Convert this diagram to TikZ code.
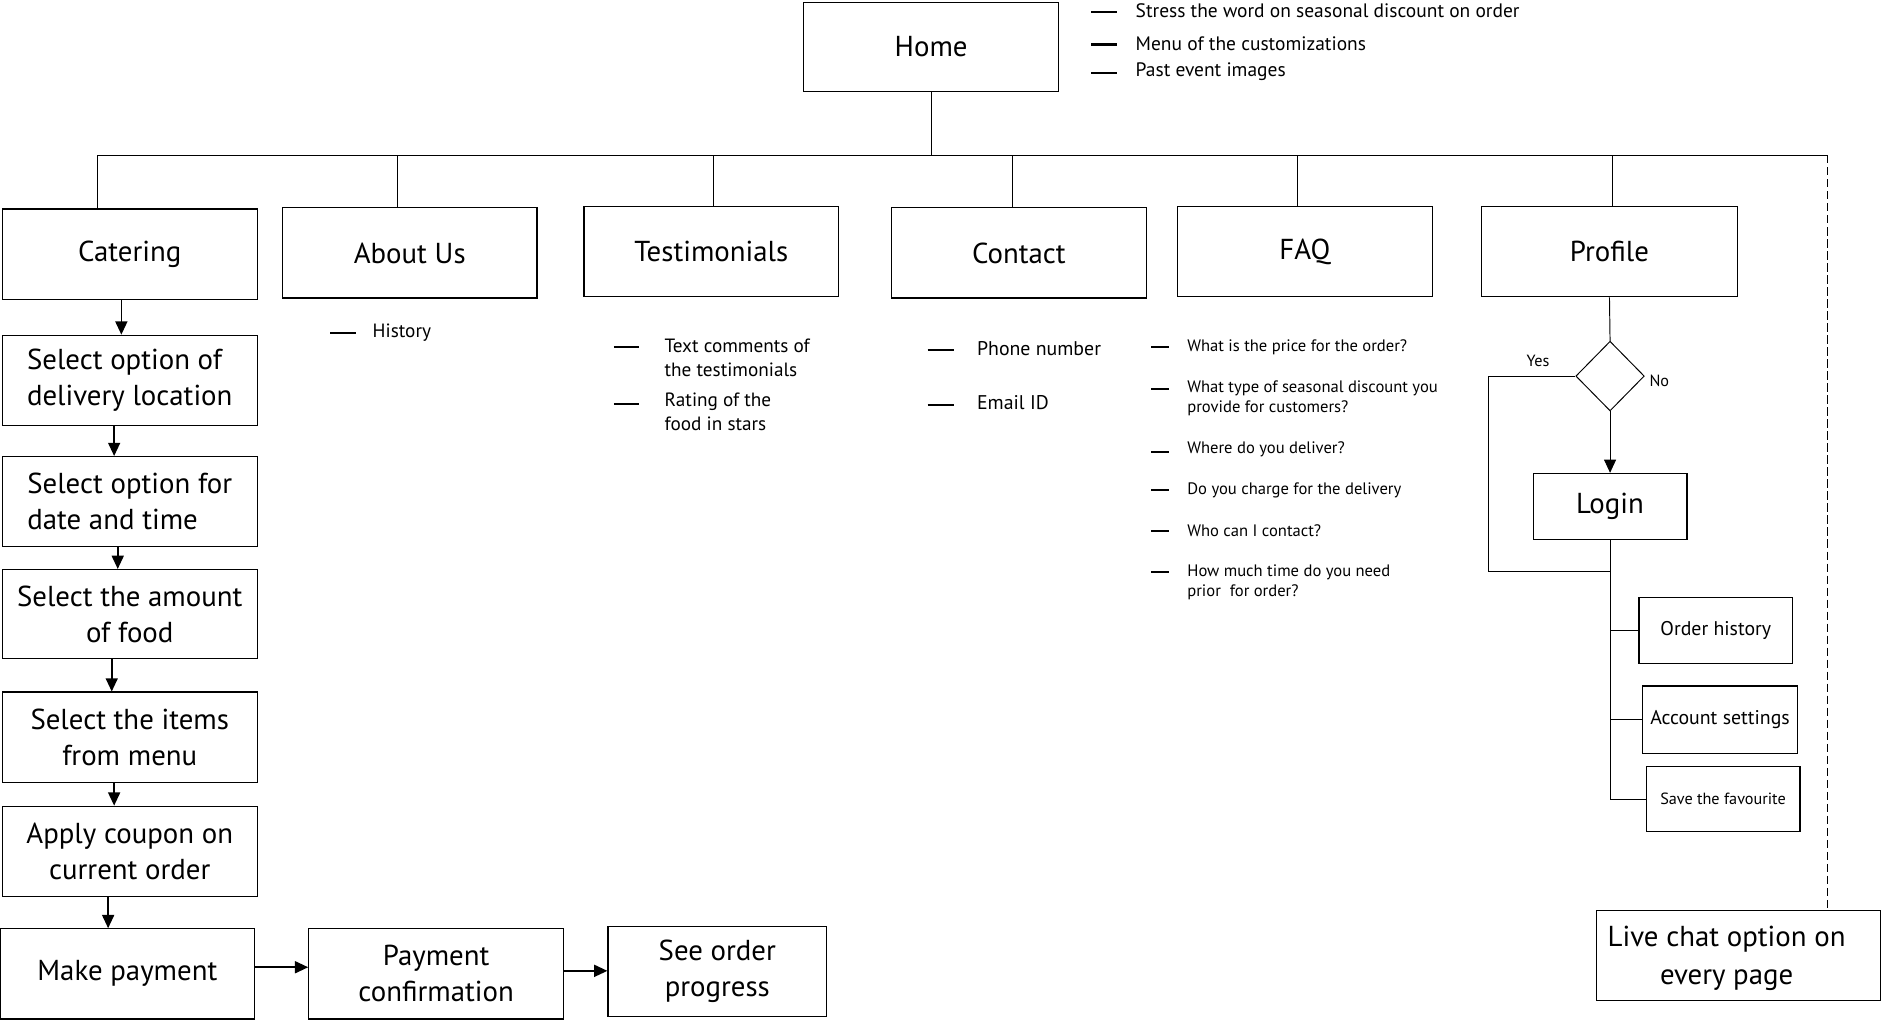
\documentclass[tikz,border=0pt]{standalone}
\usepackage{fontspec}
\setmainfont{PT Sans}
\usetikzlibrary{arrows.meta,shapes.geometric,calc}
\begin{document}
\begin{tikzpicture}[x=1pt,y=-1pt,
 box/.style={draw, line width=1pt, inner sep=0pt, align=center, font=\fontsize{24}{30}\selectfont},
 big/.style={font=\fontsize{24}{28}\selectfont},
 small/.style={font=\fontsize{16}{18}\selectfont},
 arr/.style={line width=1.3pt, -{Triangle[length=11pt,width=10pt]}},
 thinarr/.style={line width=0.8pt, -{Triangle[length=11pt,width=10pt]}},
 conn/.style={line width=0.8pt},
 bul/.style={anchor=west, inner sep=0pt, align=left},
 dsh/.style={line width=1.8pt}]
\useasboundingbox (0,0) rectangle (1568,849);

% top level
\node[box,big,minimum width=212pt,minimum height=74pt] (home) at (775,39) {Home};
\node[box,big,minimum width=212pt,minimum height=75pt] (cat) at (108,211.5) {Catering};
\node[box,big,minimum width=212pt,minimum height=75pt] (about) at (341,210.5) {About Us};
\node[box,big,minimum width=212pt,minimum height=75pt] (test) at (592,209.5) {Testimonials};
\node[box,big,minimum width=212pt,minimum height=75pt] (contact) at (848,210.5) {Contact};
\node[box,big,minimum width=212pt,minimum height=75pt] (faq) at (1086,209.5) {FAQ};
\node[box,big,minimum width=213pt,minimum height=75pt] (profile) at (1339.5,209.5) {Profile};

\coordinate (barL) at (81,129);
\coordinate (barR) at (1521,129);
\coordinate (sAbout) at (331,129);
\coordinate (sTest) at (594,129);
\coordinate (sContact) at (843,129);
\coordinate (sFaq) at (1080,129);
\coordinate (sProfile) at (1342,129);
\draw[conn] (home.south) -- (home.south |- barL);
\draw[conn] (barL) -- (barR);
\draw[conn] (barL) -- (barL |- cat.north);
\draw[conn] (sAbout) -- (sAbout |- about.north);
\draw[conn] (sTest) -- (sTest |- test.north);
\draw[conn] (sContact) -- (sContact |- contact.north);
\draw[conn] (sFaq) -- (sFaq |- faq.north);
\draw[conn] (sProfile) -- (sProfile |- profile.north);

% home bullets
\foreach \y/\t/\n in {9/{Stress the word on seasonal discount on order}/h1, 36/{Menu of the customizations}/h2, 60/{Past event images}/h3}{
  \draw[dsh] (908,\y+1) -- (930,\y+1);
  \node[bul,font=\fontsize{16.2}{20}\selectfont] (\n) at (945,\y) {\t};
}

% about bullet
\draw[dsh] (275,277) -- (296,277);
\node[bul,small] (hist) at (310,277) {History};

% testimonials bullets
\draw[dsh] (511,289) -- (532,289);
\node[bul,font=\fontsize{16}{20}\selectfont] (t1) at (553,298) {Text comments of\\the testimonials};
\draw[dsh] (511,336) -- (532,336);
\node[bul,font=\fontsize{16}{20}\selectfont] (t2) at (553,343) {Rating of the\\food in stars};

% contact bullets
\draw[dsh] (772,291) -- (794,291);
\node[bul,font=\fontsize{16.5}{20}\selectfont] (c1) at (813,290) {Phone number};
\draw[dsh] (772,337) -- (794,337);
\node[bul,font=\fontsize{16.5}{20}\selectfont] (c2) at (813,335) {Email ID};

% faq bullets
\foreach \d/\y/\t/\n in {289/289/{What is the price for the order?}/f1,
  324/331.5/{What type of seasonal discount you\\provide for customers?}/f2,
  376/374/{Where do you deliver?}/f3,
  408/408/{Do you charge for the delivery}/f4,
  442/442/{Who can I contact?}/f5,
  476/484.5/{How much time do you need\\prior\ \ for order?}/f6}{
  \draw[dsh] (958,\d) -- (973,\d);
  \node[bul,font=\fontsize{13.8}{17}\selectfont] (\n) at (988,\y) {\t};
}

% catering flow
\node[box,minimum width=212pt,minimum height=75pt,align=left] (s1) at (108,316.5) {Select option of\\delivery location};
\node[box,minimum width=212pt,minimum height=75pt,align=left] (s2) at (108,417.5) {Select option for\\date and time};
\node[box,minimum width=212pt,minimum height=74pt] (s3) at (108,511) {Select the amount\\of food};
\node[box,minimum width=212pt,minimum height=75pt] (s4) at (108,613.5) {Select the items\\from menu};
\node[box,minimum width=212pt,minimum height=75pt] (s5) at (108,708.5) {Apply coupon on\\current order};
\node[box,minimum width=212pt,minimum height=75pt] (pay) at (106,810.5) {Make payment};
\node[box,minimum width=212pt,minimum height=75pt] (conf) at (363,810.5) {Payment\\confirmation};
\node[box,minimum width=182pt,minimum height=75pt] (prog) at (597,808.5) {See order\\progress};

\draw[arr] ([xshift=-7pt]cat.south) -- ([xshift=-7pt]s1.north);
\draw[arr] ([xshift=-13pt]s1.south) -- ([xshift=-13pt]s2.north);
\draw[arr] ([xshift=-10pt]s2.south) -- ([xshift=-10pt]s3.north);
\draw[arr] ([xshift=-15pt]s3.south) -- ([xshift=-15pt]s4.north);
\draw[arr] ([xshift=-13pt]s4.south) -- ([xshift=-13pt]s5.north);
\draw[arr] ([xshift=-18pt]s5.south) -- ([xshift=-16pt]pay.north);
\draw[arr] ([yshift=5.5pt]pay.east) -- ([yshift=5.5pt]pay.east -| conf.west);
\draw[arr] ([yshift=2.5pt]conf.east) -- ([yshift=2.5pt]conf.east -| prog.west);

% profile flow
\node[draw,shape=diamond,line width=0.8pt,minimum width=57pt,minimum height=58pt,inner sep=0pt] (dia) at (1340,313) {};
\node[font=\fontsize{13.5}{15}\selectfont,inner sep=0pt] (yes) at (1280,300) {Yes};
\node[font=\fontsize{13.5}{15}\selectfont,inner sep=0pt] (no) at (1381,317) {No};
\node[box,big,minimum width=128pt,minimum height=55pt] (login) at (1340,421.5) {Login};
\node[box,font=\fontsize{16.5}{18}\selectfont,minimum width=128pt,minimum height=55pt] (oh) at (1428,524.5) {Order history};
\node[box,font=\fontsize{16.5}{18}\selectfont,minimum width=129pt,minimum height=56pt] (acc) at (1431.5,599) {Account settings};
\node[box,font=\fontsize{13.5}{15}\selectfont,minimum width=128pt,minimum height=54pt] (fav) at (1434,665) {Save the favourite};
\node[box,minimum width=236pt,minimum height=75pt] (live) at (1447,795.5) {};
\node[font=\fontsize{24}{31}\selectfont,align=center,inner sep=0pt] (livet) at (1437,797.5) {Live chat option on\\every page};

\coordinate (yb) at (1239,476);
\draw[conn] (profile.south) -- (dia.north);
\draw[thinarr] (dia.south) -- (login.north);
\draw[conn] (dia.west) -| (yb) -- (yb -| login.south);
\draw[conn] (login.south) |- (fav.west);
\draw[conn] (login.south |- oh.west) -- (oh.west);
\draw[conn] (login.south |- acc.west) -- (acc.west);
\draw[conn,dash pattern=on 7pt off 3pt] (barR) -- (barR |- live.north);
\end{tikzpicture}
\end{document}
